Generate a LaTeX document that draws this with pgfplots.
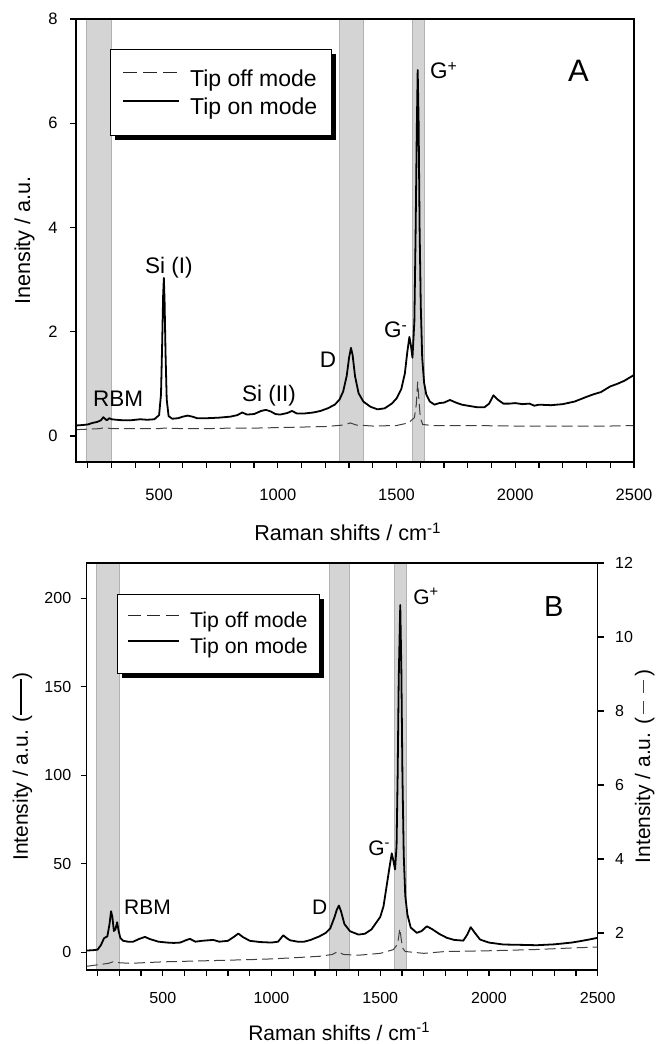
\documentclass[border=0pt]{standalone}
\usepackage{fontspec}
\setmainfont{Liberation Sans}
\usepackage{pgfplots}
\pgfplotsset{compat=1.18}
\usetikzlibrary{shadows}
\definecolor{bandfill}{gray}{0.83}
\definecolor{bandedge}{gray}{0.70}
\definecolor{offcol}{gray}{0.25}
\makeatletter
\tikzset{noprea/.code={\let\tikz@preactions\pgfutil@empty}}
\makeatother
\pgfplotsset{
  ramanaxis/.style={
    scale only axis,
    xmin=150, xmax=2500,
    xtick={500,1000,1500,2000,2500},
    minor xtick={200,300,...,2400},
    tick align=outside,
    tick pos=left,
    major tick length=6pt, minor tick length=6pt,
    tick style={black, line width=1.2pt},
    axis line style={line width=1.4pt},
    axis on top,
    /pgf/number format/assume math mode=true,
    /pgf/number format/1000 sep={},
    legend cell align=left,
  },
  bandstyle/.style={fill=bandfill, draw=bandedge, line width=0.8pt, forget plot},
  onstyle/.style={black, line width=1.8pt, line join=round, no markers},
  offstyle/.style={offcol, line width=1pt, dash pattern=on 11pt off 5pt, no markers},
  offleg/.style={black!85, line width=1pt, dash pattern=on 14pt off 6pt, no markers},
}
\begin{document}
\begin{tikzpicture}
\path[use as bounding box] (0,0) rectangle (656pt,1044pt);
% ---------------- Panel A ----------------
\begin{axis}[ramanaxis,
  at={(76pt,582pt)}, anchor=south west,
  width=558pt, height=443pt,
  ymin=-0.5, ymax=8, ytick={0,2,4,6,8},
  tick label style={font=\fontsize{16.5}{19}\selectfont},
  xticklabel style={yshift=-17pt},
  yticklabel style={xshift=-9pt},
  xlabel={Raman shifts / cm\textsuperscript{-1}},
  ylabel={Inensity / a.u.},
  every axis x label/.style={at={(axis description cs:0.487,-0.1783)}, anchor=base, font=\fontsize{21.6}{25}\selectfont},
  every axis y label/.style={at={(axis description cs:-0.0824,0.5)}, rotate=90, anchor=base, font=\fontsize{21.6}{25}\selectfont},
  legend style={at={(0.0609,0.932)}, anchor=north west, draw=black, line width=0.8pt, fill=white,
    drop shadow={shadow xshift=4.5pt,shadow yshift=-4.5pt,fill=black,opacity=1},
    font=\fontsize{23}{27}\selectfont, inner xsep=12pt, inner ysep=18pt, row sep=6pt,
    /tikz/every odd column/.append style={column sep=8pt}},
  legend image code/.code={\draw[noprea,#1] (0pt,6pt) -- (56pt,6pt);},
]
\addplot[bandstyle] coordinates {(195,-0.5) (297,-0.5) (297,8) (195,8)} -- cycle;
\addplot[bandstyle] coordinates {(1260,-0.5) (1360,-0.5) (1360,8) (1260,8)} -- cycle;
\addplot[bandstyle] coordinates {(1568,-0.5) (1619,-0.5) (1619,8) (1568,8)} -- cycle;
\addplot[offstyle, forget plot] coordinates {
(150,0.12) (200,0.13) (250,0.14) (270,0.16) (300,0.14) (400,0.14) (500,0.14) (520,0.15)
(600,0.14) (700,0.14) (800,0.15) (900,0.15) (1000,0.16) (1100,0.17) (1200,0.18) (1280,0.21)
(1305,0.25) (1330,0.21) (1400,0.19) (1500,0.20) (1550,0.25) (1575,0.35) (1583,0.6) (1589,1.04)
(1594,0.7) (1600,0.35) (1610,0.22) (1650,0.20) (1800,0.20) (2000,0.19) (2200,0.19) (2400,0.19) (2500,0.20)
};
\addlegendimage{offleg}
\addplot[onstyle] coordinates {
(150,0.20) (180,0.21) (200,0.22) (220,0.25) (240,0.27) (255,0.30) (265,0.36) (272,0.33)
(280,0.30) (290,0.34) (300,0.32) (320,0.31) (350,0.30) (380,0.30) (400,0.31) (420,0.32)
(450,0.31) (480,0.32) (500,0.40) (508,0.8) (513,1.8) (517,2.7) (520,3.03) (523,2.6)
(527,1.6) (532,0.7) (540,0.38) (555,0.33) (580,0.34) (600,0.37) (620,0.39) (640,0.37)
(660,0.34) (700,0.34) (750,0.35) (800,0.37) (830,0.40) (850,0.45) (870,0.41) (900,0.42)
(930,0.48) (950,0.50) (970,0.47) (990,0.42) (1010,0.41) (1040,0.44) (1060,0.48) (1080,0.43)
(1110,0.43) (1150,0.45) (1180,0.48) (1210,0.53) (1240,0.60) (1260,0.70) (1275,0.85) (1290,1.15)
(1300,1.5) (1308,1.69) (1315,1.55) (1325,1.15) (1340,0.82) (1360,0.66) (1390,0.56) (1420,0.51)
(1450,0.53) (1480,0.62) (1500,0.72) (1520,0.90) (1535,1.2) (1545,1.6) (1554,1.90) (1560,1.75)
(1567,1.50) (1575,2.2) (1580,3.8) (1585,5.8) (1589,7.02) (1593,6.0) (1597,4.0) (1602,2.5)
(1608,1.5) (1616,1.02) (1625,0.80) (1640,0.66) (1660,0.60) (1680,0.63) (1700,0.64) (1725,0.69)
(1750,0.64) (1775,0.60) (1800,0.58) (1840,0.55) (1870,0.55) (1890,0.62) (1908,0.78) (1925,0.70)
(1950,0.62) (1975,0.62) (2000,0.63) (2030,0.61) (2060,0.62) (2080,0.58) (2100,0.60) (2150,0.59)
(2200,0.61) (2250,0.66) (2300,0.75) (2330,0.80) (2360,0.84) (2400,0.95) (2430,1.00) (2460,1.06) (2500,1.17)
};
\legend{Tip off mode, Tip on mode}
\node[anchor=base, font=\fontsize{22.5}{26}\selectfont] at (axis cs:327,0.558) {RBM};
\node[anchor=base, font=\fontsize{22.5}{26}\selectfont] at (axis cs:541,3.115) {Si (I)};
\node[anchor=base, font=\fontsize{22.5}{26}\selectfont] at (axis cs:963,0.66) {Si (II)};
\node[anchor=base, font=\fontsize{22.5}{26}\selectfont] at (axis cs:1211,1.31) {D};
\node[anchor=base west, inner sep=0pt, font=\fontsize{22.5}{26}\selectfont] at (axis cs:1447,1.885) {G\textsuperscript{-}};
\node[anchor=base west, inner sep=0pt, font=\fontsize{22.5}{26}\selectfont] at (axis cs:1641,6.85) {G\textsuperscript{+}};
\node[anchor=base west, inner sep=0pt, font=\fontsize{31}{36}\selectfont] at (axis cs:2222,6.81) {A};
\end{axis}
% ---------------- Panel B ----------------
\begin{axis}[ramanaxis,
  at={(86.7pt,74pt)}, anchor=south west,
  width=511pt, height=407pt,
  ymin=-10, ymax=220, ytick={0,50,100,150,200},
  tick label style={font=\fontsize{16}{19}\selectfont},
  xticklabel style={yshift=-13pt},
  yticklabel style={xshift=-6pt},
  xlabel={Raman shifts / cm\textsuperscript{-1}},
  ylabel={Intensity / a.u. (\rule[0.3em]{36pt}{1.4pt})},
  every axis x label/.style={at={(axis description cs:0.494,-0.172)}, anchor=base, font=\fontsize{21}{25}\selectfont},
  every axis y label/.style={at={(axis description cs:-0.115,0.5)}, rotate=90, anchor=base, font=\fontsize{21}{25}\selectfont},
  legend style={at={(0.0593,0.924)}, anchor=north west, draw=black, line width=0.8pt, fill=white,
    drop shadow={shadow xshift=4.5pt,shadow yshift=-4.5pt,fill=black,opacity=1},
    font=\fontsize{21.3}{25}\selectfont, inner xsep=10pt, inner ysep=16pt, row sep=5pt,
    /tikz/every odd column/.append style={column sep=8pt}},
  legend image code/.code={\draw[noprea,#1] (0pt,5.5pt) -- (51pt,5.5pt);},
]
\addplot[bandstyle] coordinates {(196,-10) (300,-10) (300,220) (196,220)} -- cycle;
\addplot[bandstyle] coordinates {(1264,-10) (1356,-10) (1356,220) (1264,220)} -- cycle;
\addplot[bandstyle] coordinates {(1563,-10) (1619,-10) (1619,220) (1563,220)} -- cycle;
\addlegendimage{offleg, dash pattern=on 13pt off 6pt}
\addplot[onstyle] coordinates {
(150,1) (180,1.2) (200,1.5) (215,4) (230,8) (245,9) (255,16) (262,23.2) (268,20) (275,12)
(282,13) (290,17) (297,12) (305,8) (318,6.5) (340,6) (364,6) (390,7.5) (418,8.7) (440,7.5)
(480,6) (520,5.5) (550,5.3) (580,5.5) (610,7) (625,7.6) (650,6) (680,6.5) (710,6.8) (732,7.0)
(760,6) (800,6.5) (830,9) (847,10.6) (870,8.5) (900,6.5) (947,5.8) (1000,5.5) (1030,6) (1054,9.6)
(1070,8) (1085,6.8) (1120,6) (1150,6) (1180,7) (1220,9) (1250,11) (1270,13.5) (1290,20) (1300,24)
(1310,26.4) (1320,23) (1335,16) (1361,11.9) (1400,10) (1430,10.5) (1460,13) (1480,16.5) (1500,20) (1515,26)
(1530,38) (1545,50) (1553,55.9) (1560,52) (1568,46.8) (1575,60) (1580,100) (1585,155) (1592,196.2) (1597,160)
(1602,100) (1608,55) (1615,32) (1625,21.3) (1640,14) (1668,11) (1690,12) (1714,14.7) (1740,13) (1770,10.5)
(1806,8.2) (1840,7) (1882,6.6) (1900,10) (1916,14.2) (1935,11) (1959,7.2) (2000,5.5) (2066,4.4) (2150,4.2)
(2220,4.0) (2300,4.5) (2380,5.5) (2419,6.3) (2460,7.2) (2500,8.2)
};
\legend{Tip off mode, Tip on mode}
\node[anchor=base west, inner sep=0pt, font=\fontsize{21}{25}\selectfont] at (axis cs:321.5,21.3) {RBM};
\node[anchor=base west, inner sep=0pt, font=\fontsize{21}{25}\selectfont] at (axis cs:1186,21.3) {D};
\node[anchor=base west, inner sep=0pt, font=\fontsize{21}{25}\selectfont] at (axis cs:1444,54.7) {G\textsuperscript{-}};
\node[anchor=base west, inner sep=0pt, font=\fontsize{21}{25}\selectfont] at (axis cs:1651,196.8) {G\textsuperscript{+}};
\node[anchor=base west, inner sep=0pt, font=\fontsize{29}{34}\selectfont] at (axis cs:2253,190) {B};
\end{axis}
\begin{axis}[scale only axis,
  at={(86.7pt,74pt)}, anchor=south west,
  width=511pt, height=407pt,
  xmin=150, xmax=2500, ymin=1, ymax=12, ytick={2,4,...,12},
  axis x line=none, axis y line*=right,
  tick align=outside, major tick length=6pt,
  tick style={black, line width=1.2pt},
  axis line style={line width=1.4pt},
  tick label style={font=\fontsize{16}{19}\selectfont},
  yticklabel style={xshift=8pt},
  /pgf/number format/assume math mode=true,
  ylabel={Intensity / a.u. (\,\textcolor{offcol}{\rule[0.3em]{13pt}{1pt}\hspace{8pt}\rule[0.3em]{13pt}{1pt}}\,)},
  every axis y label/.style={at={(axis description cs:1.1024,0.5)}, rotate=90, anchor=base, font=\fontsize{21}{25}\selectfont},
]
\addplot[offstyle] coordinates {
(150,1.10) (200,1.14) (250,1.18) (270,1.22) (290,1.2) (350,1.18) (500,1.22) (700,1.25) (900,1.28)
(1000,1.3) (1100,1.33) (1220,1.37) (1280,1.42) (1305,1.5) (1330,1.42) (1400,1.4) (1500,1.45)
(1560,1.55) (1580,1.7) (1586,1.95) (1590,2.12) (1595,1.9) (1602,1.6) (1615,1.5) (1650,1.48)
(1700,1.45) (1800,1.5) (2000,1.52) (2200,1.55) (2400,1.6) (2500,1.62)
};
\end{axis}
\end{tikzpicture}
\end{document}
